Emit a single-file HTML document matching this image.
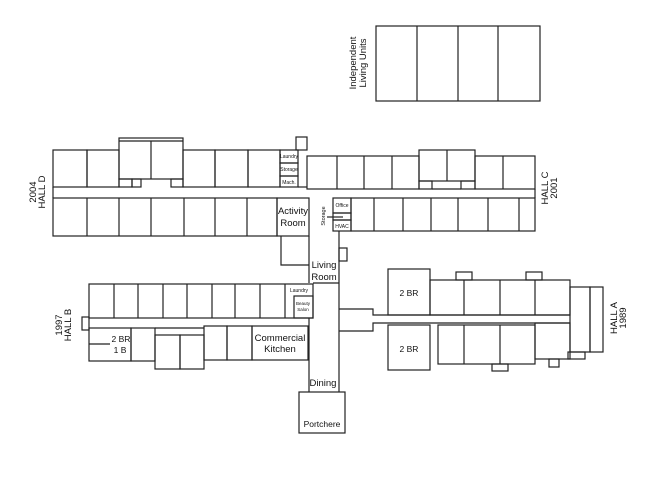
<!DOCTYPE html>
<html><head><meta charset="utf-8"><style>
html,body{margin:0;padding:0;background:#fff;}
svg{display:block;}
text{font-family:"Liberation Sans",sans-serif;fill:#111;}
</style></head><body>
<svg width="650" height="490" viewBox="0 0 650 490" xmlns="http://www.w3.org/2000/svg">
<g fill="none" stroke="#222" stroke-width="1.2">
<!-- Independent Living Units -->
<rect x="376" y="26" width="164" height="75"/>
<line x1="417" y1="26" x2="417" y2="101"/><line x1="458" y1="26" x2="458" y2="101"/><line x1="498" y1="26" x2="498" y2="101"/>

<!-- Hall D top row -->
<rect x="53" y="150" width="34" height="37"/>
<rect x="87" y="150" width="32" height="37"/>
<rect x="119" y="138" width="64" height="41"/>
<line x1="119" y1="141" x2="183" y2="141"/>
<line x1="151" y1="141" x2="151" y2="179"/>
<rect x="119" y="179" width="13" height="8"/>
<rect x="132" y="179" width="9" height="8"/>
<rect x="171" y="179" width="12" height="8"/>
<rect x="183" y="150" width="32" height="37"/>
<rect x="215" y="150" width="33" height="37"/>
<rect x="248" y="150" width="32" height="37"/>
<rect x="280" y="150" width="18" height="13"/>
<rect x="280" y="163" width="18" height="13"/>
<rect x="280" y="176" width="18" height="11"/>
<rect x="296" y="137" width="11" height="13"/>
<!-- Hall D corridor & bottom -->
<line x1="53" y1="187" x2="53" y2="198"/>
<line x1="298" y1="187" x2="307" y2="187"/>
<rect x="53" y="198" width="224" height="38"/>
<line x1="87" y1="198" x2="87" y2="236"/><line x1="119" y1="198" x2="119" y2="236"/><line x1="151" y1="198" x2="151" y2="236"/><line x1="184" y1="198" x2="184" y2="236"/><line x1="215" y1="198" x2="215" y2="236"/><line x1="247" y1="198" x2="247" y2="236"/>
<rect x="277" y="198" width="32" height="38"/>
<polyline points="281,236 281,265 309,265"/>
<line x1="309" y1="236" x2="309" y2="283"/>

<!-- Hall C top -->
<rect x="307" y="156" width="112" height="33"/>
<line x1="337" y1="156" x2="337" y2="189"/><line x1="364" y1="156" x2="364" y2="189"/><line x1="392" y1="156" x2="392" y2="189"/>
<rect x="419" y="150" width="56" height="31"/>
<line x1="447" y1="150" x2="447" y2="181"/>
<rect x="419" y="181" width="13" height="8"/>
<rect x="461" y="181" width="14" height="8"/>
<line x1="432" y1="189" x2="461" y2="189"/>
<rect x="475" y="156" width="60" height="33"/>
<line x1="503" y1="156" x2="503" y2="189"/>
<line x1="535" y1="189" x2="535" y2="198"/>
<!-- Hall C bottom -->
<rect x="333" y="198" width="18" height="15"/>
<rect x="333" y="213" width="18" height="7"/>
<rect x="333" y="220" width="18" height="11"/>
<line x1="327" y1="217" x2="343" y2="217"/>
<rect x="351" y="198" width="184" height="33"/>
<line x1="374" y1="198" x2="374" y2="231"/><line x1="403" y1="198" x2="403" y2="231"/><line x1="431" y1="198" x2="431" y2="231"/><line x1="458" y1="198" x2="458" y2="231"/><line x1="488" y1="198" x2="488" y2="231"/><line x1="519" y1="198" x2="519" y2="231"/>
<line x1="339" y1="231" x2="339" y2="392"/>
<rect x="339" y="248" width="8" height="13"/>

<!-- spine -->
<line x1="313" y1="283" x2="339" y2="283"/>
<line x1="309" y1="318" x2="309" y2="392"/>

<!-- Hall B top -->
<rect x="89" y="284" width="224" height="34"/>
<line x1="114" y1="284" x2="114" y2="318"/><line x1="138" y1="284" x2="138" y2="318"/><line x1="163" y1="284" x2="163" y2="318"/><line x1="187" y1="284" x2="187" y2="318"/><line x1="212" y1="284" x2="212" y2="318"/><line x1="235" y1="284" x2="235" y2="318"/><line x1="260" y1="284" x2="260" y2="318"/><line x1="285" y1="284" x2="285" y2="318"/>
<rect x="294" y="296" width="19" height="22"/>
<rect x="82" y="317" width="7" height="13"/>
<!-- Hall B bottom -->
<rect x="89" y="328" width="42" height="33"/>
<line x1="89" y1="344" x2="110" y2="344"/>
<rect x="131" y="328" width="24" height="33"/>
<rect x="155" y="335" width="25" height="34"/>
<rect x="180" y="335" width="24" height="34"/>
<rect x="204" y="326" width="23" height="34"/>
<rect x="227" y="326" width="25" height="34"/>
<rect x="252" y="326" width="56" height="34"/>
<line x1="155" y1="328" x2="204" y2="328"/>

<!-- Portchere -->
<rect x="299" y="392" width="46" height="41"/>

<!-- Hall A -->
<polyline points="339,309 373,309 373,315 570,315"/>
<polyline points="339,331 373,331 373,323 570,323"/>
<rect x="388" y="269" width="42" height="46"/>
<rect x="430" y="280" width="140" height="35"/>
<line x1="464" y1="280" x2="464" y2="315"/><line x1="500" y1="280" x2="500" y2="315"/><line x1="535" y1="280" x2="535" y2="315"/>
<rect x="456" y="272" width="16" height="8"/>
<rect x="526" y="272" width="16" height="8"/>
<rect x="570" y="287" width="20" height="65"/>
<rect x="590" y="287" width="13" height="65"/>
<rect x="388" y="325" width="42" height="45"/>
<rect x="438" y="325" width="97" height="39"/>
<line x1="464" y1="325" x2="464" y2="364"/><line x1="500" y1="325" x2="500" y2="364"/>
<rect x="535" y="323" width="35" height="36"/>
<rect x="568" y="352" width="17" height="7"/>
<rect x="492" y="364" width="16" height="7"/>
<rect x="549" y="359" width="10" height="8"/>
</g>

<!-- labels -->
<g font-size="10">
<text x="293" y="214" text-anchor="middle" font-size="9.5">Activity</text>
<text x="293" y="226" text-anchor="middle" font-size="9.5">Room</text>
<text x="324" y="268" text-anchor="middle" font-size="9.5">Living</text>
<text x="324" y="280" text-anchor="middle" font-size="9.5">Room</text>
<text x="280" y="341" text-anchor="middle" font-size="9.5">Commercial</text>
<text x="280" y="352" text-anchor="middle" font-size="9.5">Kitchen</text>
<text x="323" y="386" text-anchor="middle" font-size="9.5">Dining</text>
<text x="322" y="427" text-anchor="middle" font-size="8.5">Portchere</text>
<text x="121" y="342" text-anchor="middle" font-size="8.5">2 BR</text>
<text x="120" y="353" text-anchor="middle" font-size="8.5">1 B</text>
<text x="409" y="296" text-anchor="middle" font-size="8.5">2 BR</text>
<text x="409" y="352" text-anchor="middle" font-size="8.5">2 BR</text>
</g>
<g font-size="5" text-anchor="middle">
<text x="289" y="158">Laundry</text>
<text x="289" y="171">Storage</text>
<text x="289" y="184">Mach.</text>
<text x="342" y="207">Office</text>
<text x="342" y="228">HVAC</text>
<text x="299" y="292">Laundry</text>
<text x="303" y="305" font-size="4.5">Beauty</text>
<text x="303" y="311" font-size="4.5">Salon</text>
<text transform="translate(325,216) rotate(-90)" font-size="5.5">Storage</text>
</g>
<g font-size="9.5" text-anchor="middle">
<text transform="translate(36,192) rotate(-90)">2004</text>
<text transform="translate(45,192) rotate(-90)">HALL D</text>
<text transform="translate(548,188) rotate(-90)">HALL C</text>
<text transform="translate(557,188) rotate(-90)">2001</text>
<text transform="translate(62,325) rotate(-90)">1997</text>
<text transform="translate(71,325) rotate(-90)">HALL B</text>
<text transform="translate(617,318) rotate(-90)">HALL A</text>
<text transform="translate(626,318) rotate(-90)">1989</text>
<text transform="translate(356,63) rotate(-90)">Independent</text>
<text transform="translate(366,63) rotate(-90)">Living Units</text>
</g>
</svg>
</body></html>
